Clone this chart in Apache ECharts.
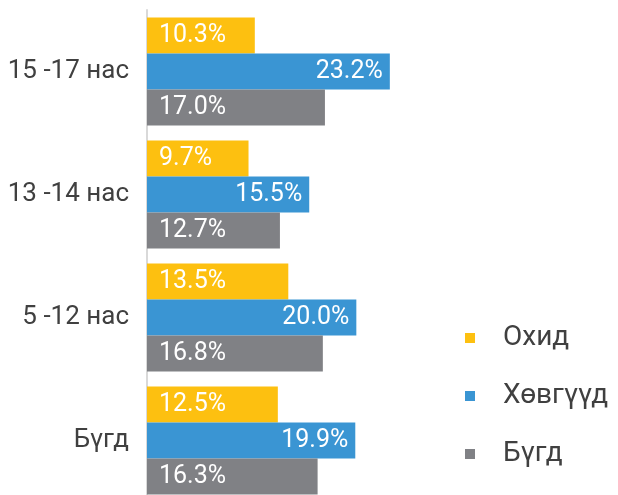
<!DOCTYPE html>
<html>
<head>
<meta charset="utf-8">
<script src="https://cdn.jsdelivr.net/npm/echarts@6/dist/echarts.min.js"></script>
<style>
    html, body { margin: 0; padding: 0; background: #fff; }
    #chart { width: 618px; height: 495px; }
</style>
</head>
<body>
<div id="chart"></div>
<script>
    const categories = ['15 -17 нас', '13 -14 нас', '5 -12 нас', 'Бүгд'];
    const seriesNames = ['Охид', 'Хөвгүүд', 'Бүгд'];
    const girls = [10.3, 9.7, 13.5, 12.5];
    const boys = [23.2, 15.5, 20.0, 19.9];
    const total = [17.0, 12.7, 16.8, 16.3];

    const colors = ['#FDC010', '#3A95D3', '#808185'];
    const chart = echarts.init(document.getElementById('chart'));

    function makeLabel(pos, dist) {
        return {
            show: true,
            position: pos,
            distance: dist,
            color: '#fff',
            fontSize: 25,
            fontFamily: 'Roboto',
            formatter: v => v.value.toFixed(1) + '%'
        };
    }

    const option = {
        animation: false,
        textStyle: {fontFamily: 'Roboto'},
        grid: {left: 147, top: 10, bottom: -7, width: 314, containLabel: false, outerBoundsMode: 'none'},
        legend: {
            orient: 'vertical',
            left: 460,
            top: 319,
            icon: 'rect',
            itemWidth: 10,
            itemHeight: 10,
            itemGap: 30,
            data: seriesNames,
            textStyle: {fontSize: 28, color: '#404040', padding: [0, 0, 0, 23]}
        },
        xAxis: {
            type: 'value',
            min: 0,
            max: 30,
            show: false
        },
        yAxis: {
            type: 'category',
            inverse: true,
            data: categories,
            axisTick: {show: false},
            axisLine: {show: true, lineStyle: {color: '#d9d9d9', width: 2}},
            axisLabel: {fontSize: 26, color: '#404040', margin: 18}
        },
        series: [
            {name: seriesNames[0], type: 'bar', data: girls, barWidth: 36, barGap: 0,
                itemStyle: {color: colors[0]}, label: makeLabel('insideLeft', 12)},
            {name: seriesNames[1], type: 'bar', data: boys, barWidth: 36, barGap: 0,
                itemStyle: {color: colors[1]}, label: makeLabel('insideRight', 7)},
            {name: seriesNames[2], type: 'bar', data: total, barWidth: 36, barGap: 0,
                itemStyle: {color: colors[2]}, label: makeLabel('insideLeft', 12)}
        ]
    };
    chart.setOption(option, true);
</script>
</body>
</html>
